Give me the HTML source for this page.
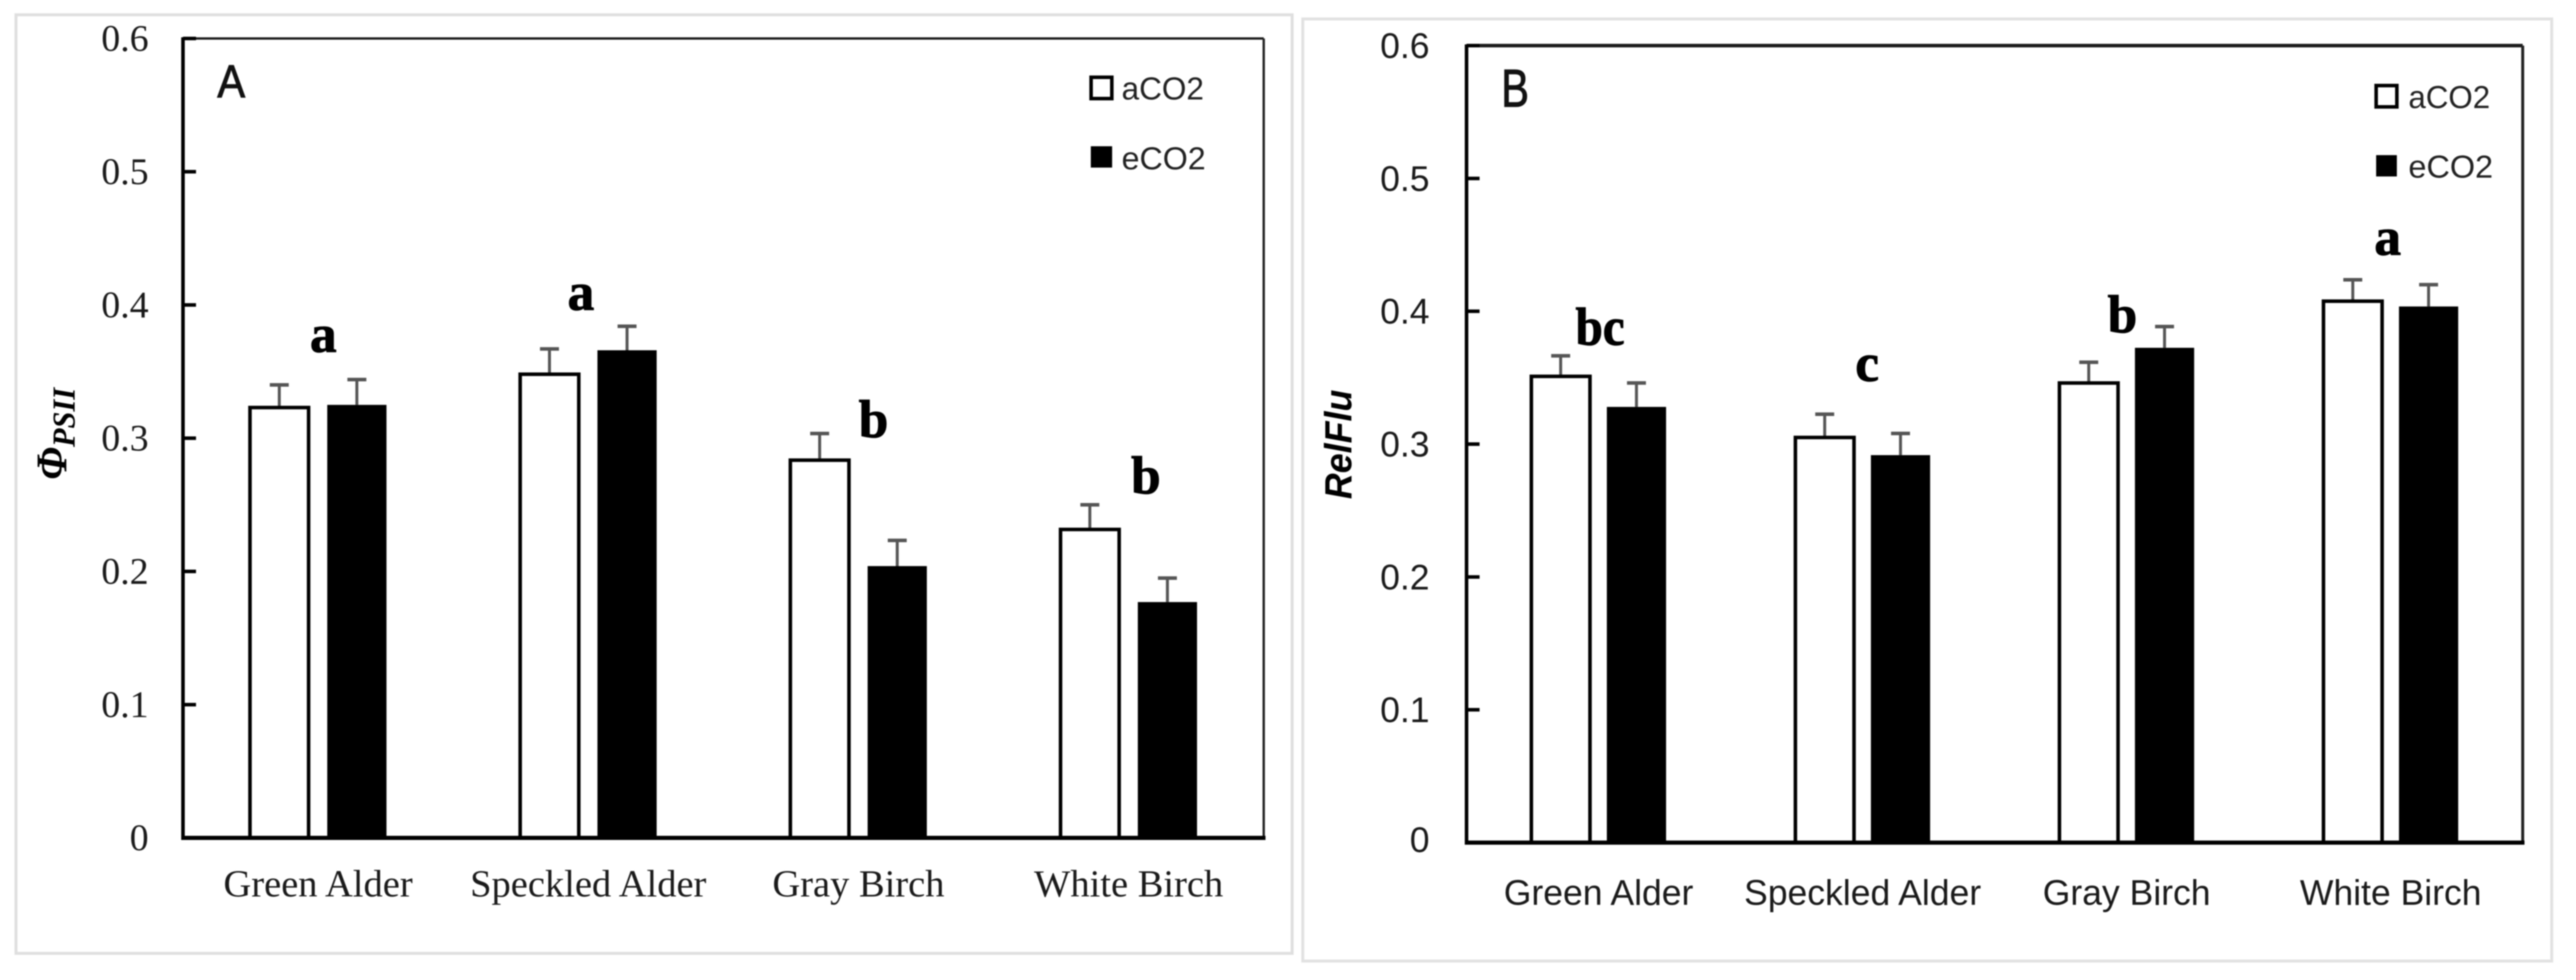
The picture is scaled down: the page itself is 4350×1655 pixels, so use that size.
<!DOCTYPE html>
<html lang="en">
<head>
<meta charset="utf-8">
<title>Phi PSII and RelFlu by species under aCO2 and eCO2</title>
<style>
  html, body { margin: 0; padding: 0; background: #fff; }
  svg { display: block; filter: blur(1px); }
  .serif { font-family: "Liberation Serif", serif; }
  .sans { font-family: "Liberation Sans", sans-serif; }
</style>
</head>
<body>
<svg id="figure" xmlns="http://www.w3.org/2000/svg" width="4350" height="1655" viewBox="0 0 4350 1655">
  <rect x="0" y="0" width="4350" height="1655" fill="#ffffff"/>
  <rect x="27" y="25" width="2155" height="1585" fill="#ffffff" stroke="#dfdfdf" stroke-width="5"/>
  <rect x="2200" y="32" width="2109" height="1591" fill="#ffffff" stroke="#e2e2e2" stroke-width="5"/>

  <g id="panel-a"></g>
  <g id="panel-b"></g>

  <!-- Panel A annotations -->
  <text class="sans" x="367" y="164" font-size="78" textLength="47" lengthAdjust="spacingAndGlyphs" fill="#111" stroke="#111" stroke-width="1.5">A</text>
  <text class="serif" transform="translate(112,810) rotate(-90)" font-size="74" font-weight="bold" font-style="italic" textLength="55" lengthAdjust="spacingAndGlyphs" fill="#000">Φ</text>
  <text class="serif" transform="translate(126,755) rotate(-90)" font-size="54" font-weight="bold" font-style="italic" textLength="100" lengthAdjust="spacingAndGlyphs" fill="#000">PSII</text>
  <g class="serif" font-size="90" font-weight="bold" text-anchor="middle" fill="#000" stroke="#000" stroke-width="1.5">
    <text x="546" y="594">a</text>
    <text x="981" y="523">a</text>
    <text x="1475" y="738">b</text>
    <text x="1935" y="833">b</text>
  </g>
  <g>
    <rect x="1842.5" y="130.5" width="35" height="36" fill="#fff" stroke="#000" stroke-width="6"/>
    <text class="sans" x="1894" y="168" font-size="54" textLength="139" lengthAdjust="spacingAndGlyphs" fill="#222">aCO2</text>
    <rect x="1842" y="247" width="36" height="36" fill="#000"/>
    <text class="sans" x="1894" y="286" font-size="54" textLength="142" lengthAdjust="spacingAndGlyphs" fill="#222">eCO2</text>
  </g>

  <!-- Panel B annotations -->
  <text class="sans" x="2535" y="180" font-size="90" textLength="47" lengthAdjust="spacingAndGlyphs" fill="#111" stroke="#111" stroke-width="1.5">B</text>
  <text class="sans" transform="translate(2282,843) rotate(-90)" font-size="64" font-weight="bold" font-style="italic" textLength="185" lengthAdjust="spacingAndGlyphs" fill="#000">RelFlu</text>
  <g class="serif" font-size="90" font-weight="bold" text-anchor="middle" fill="#000" stroke="#000" stroke-width="1.5">
    <text x="2702" y="582" textLength="83" lengthAdjust="spacingAndGlyphs">bc</text>
    <text x="3153" y="643">c</text>
    <text x="3584" y="561">b</text>
    <text x="4032" y="430">a</text>
  </g>
  <g>
    <rect x="4012.5" y="144.5" width="35" height="36" fill="#fff" stroke="#000" stroke-width="6"/>
    <text class="sans" x="4067" y="182.5" font-size="54" textLength="138" lengthAdjust="spacingAndGlyphs" fill="#222">aCO2</text>
    <rect x="4012.5" y="262" width="35" height="36" fill="#000"/>
    <text class="sans" x="4067" y="300" font-size="54" textLength="143" lengthAdjust="spacingAndGlyphs" fill="#222">eCO2</text>
  </g>
</svg>
<script>
const categories = ["Green Alder", "Speckled Alder", "Gray Birch", "White Birch"];
const tickValues = [0, 0.1, 0.2, 0.3, 0.4, 0.5, 0.6];
const tickLabels = ["0", "0.1", "0.2", "0.3", "0.4", "0.5", "0.6"];

const phiAco2 = [0.323, 0.348, 0.2835, 0.2315];
const phiEco2 = [0.325, 0.366, 0.204, 0.177];
const phiAco2Err = [0.017, 0.019, 0.02, 0.0185];
const phiEco2Err = [0.019, 0.018, 0.0193, 0.018];

const relFluAco2 = [0.351, 0.305, 0.346, 0.4076];
const relFluEco2 = [0.328, 0.2917, 0.3725, 0.4036];
const relFluAco2Err = [0.0155, 0.0175, 0.0156, 0.0161];
const relFluEco2Err = [0.018, 0.0163, 0.016, 0.0164];

const SVG_NS = "http://www.w3.org/2000/svg";

function make(parent, tag, attrs, text) {
  const node = document.createElementNS(SVG_NS, tag);
  Object.keys(attrs).forEach(function (k) { node.setAttribute(k, attrs[k]); });
  if (text !== undefined) node.textContent = text;
  parent.appendChild(node);
  return node;
}

function renderPanel(root, frame, aco2, eco2, aco2Err, eco2Err) {
  const yScale = function (v) { return frame.bottom - (v / 0.6) * (frame.bottom - frame.top); };
  const band = (frame.right - frame.left) / categories.length;
  const xScale = function (i) { return frame.left + (i + 0.5) * band; };

  categories.forEach(function (cat, i) {
    const slug = cat.toLowerCase().replace(/\s+/g, "-");
    const ax = xScale(i) - frame.barOffset;
    const ex = xScale(i) + frame.barOffset;

    // error bars (behind the bars)
    const aErrTop = yScale(aco2[i] + aco2Err[i]);
    const aStem = make(root, "line", { x1: ax, x2: ax, y1: yScale(aco2[i]), y2: aErrTop, stroke: "#555", "stroke-width": 5 });
    
    
    const aCap = make(root, "line", { x1: ax - 16, x2: ax + 16, y1: aErrTop, y2: aErrTop, stroke: "#555", "stroke-width": 6 });
    
    

    const eErrTop = yScale(eco2[i] + eco2Err[i]);
    const eStem = make(root, "line", { x1: ex, x2: ex, y1: yScale(eco2[i]), y2: eErrTop, stroke: "#555", "stroke-width": 5 });
    
    
    const eCap = make(root, "line", { x1: ex - 16, x2: ex + 16, y1: eErrTop, y2: eErrTop, stroke: "#555", "stroke-width": 6 });
    
    

    // bars
    const aBar = make(root, "rect", {
      x: ax - 49.5, y: yScale(aco2[i]), width: 99, height: yScale(0) - yScale(aco2[i]),
      fill: "#fff", stroke: "#000", "stroke-width": 6
    });
    
    
    const eBar = make(root, "rect", {
      x: ex - 50, y: yScale(eco2[i]), width: 100, height: yScale(0) - yScale(eco2[i]),
      fill: "#000"
    });
    
    

    // category label
    const label = make(root, "text", {
      x: xScale(i), y: frame.catBaseline, "text-anchor": "middle", "font-size": frame.catSize,
      "class": frame.fontClass, fill: "#1a1a1a"
    }, cat);
    
    
  });

  // axes
  const topLine = make(root, "line", { x1: frame.left, x2: frame.right, y1: frame.top, y2: frame.top, stroke: "#1c1c1c", "stroke-width": frame.topWidth });
  
  
  const rightLine = make(root, "line", { x1: frame.right, x2: frame.right, y1: frame.top, y2: frame.bottom, stroke: "#222", "stroke-width": frame.rightWidth });
  
  
  const yAxis = make(root, "line", { x1: frame.left, x2: frame.left, y1: frame.top - 2, y2: frame.bottom + 3, stroke: "#000", "stroke-width": 6 });
  
  
  const xAxis = make(root, "line", { x1: frame.left - 3, x2: frame.right + 3, y1: frame.bottom, y2: frame.bottom, stroke: "#000", "stroke-width": 7 });
  
  

  tickValues.forEach(function (v, i) {
    if (v > 0) {
      const tick = make(root, "line", { x1: frame.left, x2: frame.left + 22, y1: yScale(v), y2: yScale(v), stroke: "#000", "stroke-width": 6 });
      
      
    }
    const tickText = make(root, "text", {
      x: frame.tickRight, y: yScale(v) + (v === 0 ? frame.zeroLabelDrop : 21), "text-anchor": "end", "font-size": frame.tickSize,
      "class": frame.fontClass, fill: "#1a1a1a"
    }, tickLabels[i]);
    
    
  });
}

renderPanel(document.getElementById("panel-a"), {
  left: 309, right: 2134, top: 65, bottom: 1415, barOffset: 65.5,
  catBaseline: 1514, catSize: 65, tickRight: 251, tickSize: 64, zeroLabelDrop: 21,
  fontClass: "serif", topWidth: 4, rightWidth: 4
}, phiAco2, phiEco2, phiAco2Err, phiEco2Err);

renderPanel(document.getElementById("panel-b"), {
  left: 2476.5, right: 4260, top: 77, bottom: 1423, barOffset: 64,
  catBaseline: 1528, catSize: 60, tickRight: 2414, tickSize: 60, zeroLabelDrop: 16,
  fontClass: "sans", topWidth: 6, rightWidth: 5
}, relFluAco2, relFluEco2, relFluAco2Err, relFluEco2Err);
</script>
</body>
</html>
